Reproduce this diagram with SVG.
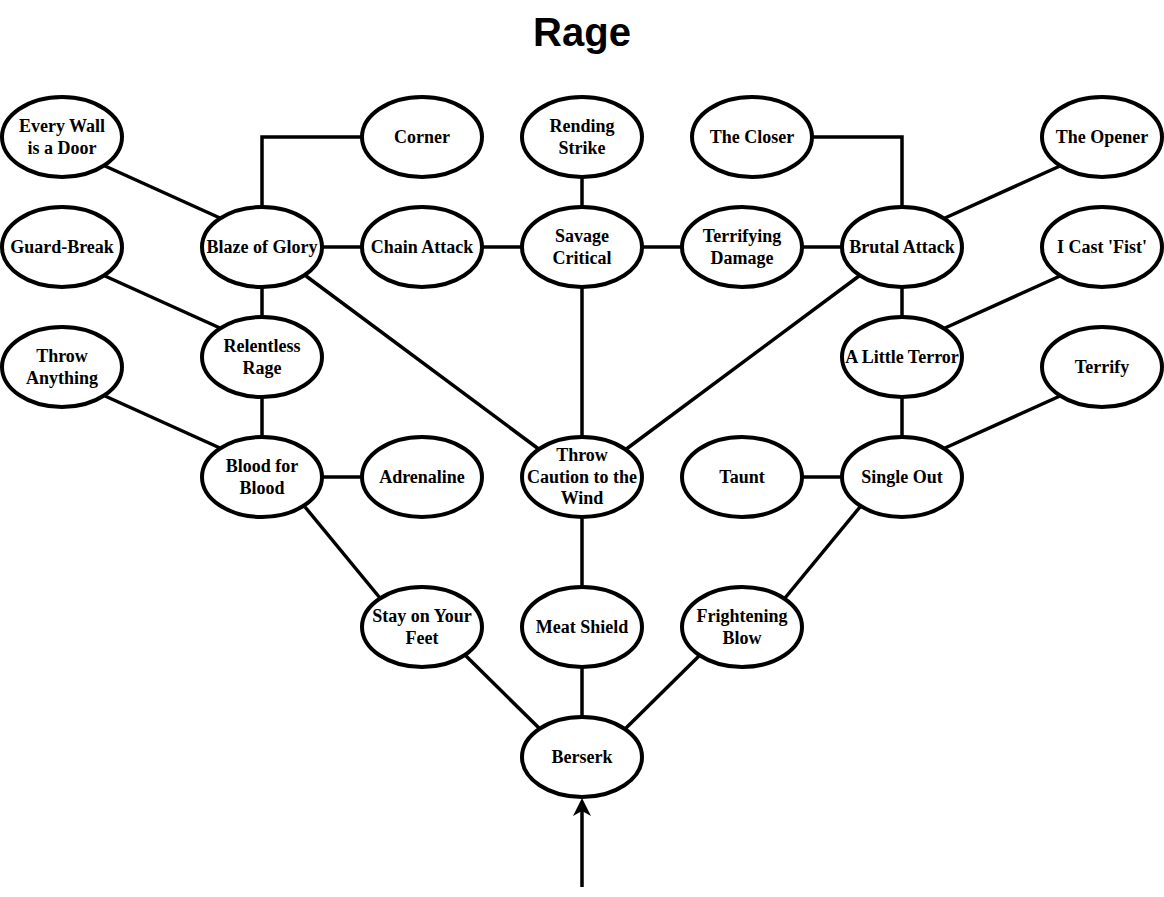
<svg xmlns="http://www.w3.org/2000/svg" width="1164" height="897" viewBox="0 0 1164 897">
<style>
.n ellipse{fill:#fff;stroke:#000;stroke-width:4}
.n text{font-family:"Liberation Serif",serif;font-weight:bold;font-size:18px;text-anchor:middle;fill:#000}
#edges path,#edges line{stroke:#000;stroke-width:3.5;fill:none}
.title{font-family:"Liberation Sans",Arial,sans-serif;font-weight:bold;font-size:40px;text-anchor:middle}
</style>
<defs>
<marker id="arr" markerUnits="userSpaceOnUse" markerWidth="20" markerHeight="20" viewBox="0 0 20 20" refX="9" refY="10" orient="auto">
<path d="M19,10 L1,1 L6,10 L1,19 Z" fill="#000"/>
</marker>
</defs>
<rect width="1164" height="897" fill="#fff"/>
<text class="title" x="582" y="46">Rage</text>
<g id="edges">
<line x1="105" y1="166" x2="220" y2="218"/>
<path d="M362,137 H262 V207"/>
<line x1="582" y1="177" x2="582" y2="207"/>
<path d="M812,137 H902 V207"/>
<line x1="1060" y1="166" x2="945" y2="218"/>
<line x1="105" y1="276" x2="220" y2="328"/>
<line x1="322" y1="247" x2="362" y2="247"/>
<line x1="482" y1="247" x2="522" y2="247"/>
<line x1="642" y1="247" x2="682" y2="247"/>
<line x1="802" y1="247" x2="842" y2="247"/>
<line x1="1060" y1="276" x2="945" y2="328"/>
<line x1="262" y1="287" x2="262" y2="317"/>
<line x1="902" y1="287" x2="902" y2="317"/>
<line x1="306" y1="276" x2="540" y2="450"/>
<line x1="582" y1="287" x2="582" y2="437"/>
<line x1="859" y1="276" x2="625" y2="450"/>
<line x1="105" y1="396" x2="220" y2="448"/>
<line x1="1060" y1="396" x2="945" y2="448"/>
<line x1="262" y1="397" x2="262" y2="437"/>
<line x1="902" y1="397" x2="902" y2="437"/>
<line x1="322" y1="477" x2="362" y2="477"/>
<line x1="802" y1="477" x2="842" y2="477"/>
<line x1="305" y1="507" x2="380" y2="598"/>
<line x1="860" y1="507" x2="785" y2="598"/>
<line x1="582" y1="517" x2="582" y2="587"/>
<line x1="466" y1="656" x2="540" y2="729"/>
<line x1="582" y1="667" x2="582" y2="717"/>
<line x1="699" y1="656" x2="625" y2="729"/>
<line x1="582" y1="887" x2="582" y2="808" marker-end="url(#arr)"/>
</g>
<g id="every-wall" class="n"><ellipse cx="62" cy="137" rx="60" ry="40"/><text x="62" y="132">Every Wall</text><text x="62" y="154">is a Door</text></g>
<g id="corner" class="n"><ellipse cx="422" cy="137" rx="60" ry="40"/><text x="422" y="143">Corner</text></g>
<g id="rending-strike" class="n"><ellipse cx="582" cy="137" rx="60" ry="40"/><text x="582" y="132">Rending</text><text x="582" y="154">Strike</text></g>
<g id="the-closer" class="n"><ellipse cx="752" cy="137" rx="60" ry="40"/><text x="752" y="143">The Closer</text></g>
<g id="the-opener" class="n"><ellipse cx="1102" cy="137" rx="60" ry="40"/><text x="1102" y="143">The Opener</text></g>
<g id="guard-break" class="n"><ellipse cx="62" cy="247" rx="60" ry="40"/><text x="62" y="253">Guard-Break</text></g>
<g id="blaze-of-glory" class="n"><ellipse cx="262" cy="247" rx="60" ry="40"/><text x="262" y="253">Blaze of Glory</text></g>
<g id="chain-attack" class="n"><ellipse cx="422" cy="247" rx="60" ry="40"/><text x="422" y="253">Chain Attack</text></g>
<g id="savage-critical" class="n"><ellipse cx="582" cy="247" rx="60" ry="40"/><text x="582" y="242">Savage</text><text x="582" y="264">Critical</text></g>
<g id="terrifying-damage" class="n"><ellipse cx="742" cy="247" rx="60" ry="40"/><text x="742" y="242">Terrifying</text><text x="742" y="264">Damage</text></g>
<g id="brutal-attack" class="n"><ellipse cx="902" cy="247" rx="60" ry="40"/><text x="902" y="253">Brutal Attack</text></g>
<g id="i-cast-fist" class="n"><ellipse cx="1102" cy="247" rx="60" ry="40"/><text x="1102" y="253">I Cast 'Fist'</text></g>
<g id="throw-anything" class="n"><ellipse cx="62" cy="367" rx="60" ry="40"/><text x="62" y="362">Throw</text><text x="62" y="384">Anything</text></g>
<g id="relentless-rage" class="n"><ellipse cx="262" cy="357" rx="60" ry="40"/><text x="262" y="352">Relentless</text><text x="262" y="374">Rage</text></g>
<g id="a-little-terror" class="n"><ellipse cx="902" cy="357" rx="60" ry="40"/><text x="902" y="363">A Little Terror</text></g>
<g id="terrify" class="n"><ellipse cx="1102" cy="367" rx="60" ry="40"/><text x="1102" y="373">Terrify</text></g>
<g id="blood-for-blood" class="n"><ellipse cx="262" cy="477" rx="60" ry="40"/><text x="262" y="472">Blood for</text><text x="262" y="494">Blood</text></g>
<g id="adrenaline" class="n"><ellipse cx="422" cy="477" rx="60" ry="40"/><text x="422" y="483">Adrenaline</text></g>
<g id="throw-caution" class="n"><ellipse cx="582" cy="477" rx="60" ry="40"/><text x="582" y="461">Throw</text><text x="582" y="483">Caution to the</text><text x="582" y="504">Wind</text></g>
<g id="taunt" class="n"><ellipse cx="742" cy="477" rx="60" ry="40"/><text x="742" y="483">Taunt</text></g>
<g id="single-out" class="n"><ellipse cx="902" cy="477" rx="60" ry="40"/><text x="902" y="483">Single Out</text></g>
<g id="stay-on-your-feet" class="n"><ellipse cx="422" cy="627" rx="60" ry="40"/><text x="422" y="622">Stay on Your</text><text x="422" y="644">Feet</text></g>
<g id="meat-shield" class="n"><ellipse cx="582" cy="627" rx="60" ry="40"/><text x="582" y="633">Meat Shield</text></g>
<g id="frightening-blow" class="n"><ellipse cx="742" cy="627" rx="60" ry="40"/><text x="742" y="622">Frightening</text><text x="742" y="644">Blow</text></g>
<g id="berserk" class="n"><ellipse cx="582" cy="757" rx="60" ry="40"/><text x="582" y="763">Berserk</text></g>
</svg>
